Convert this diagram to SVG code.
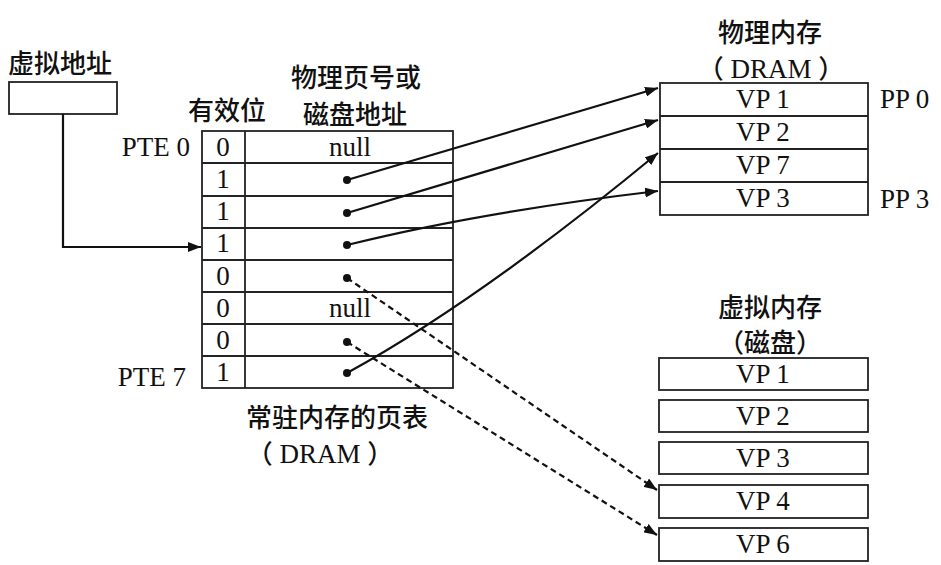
<svg xmlns="http://www.w3.org/2000/svg" width="941" height="565" viewBox="0 0 941 565">
<defs>
<marker id="ah" markerUnits="userSpaceOnUse" markerWidth="14" markerHeight="10" refX="13" refY="5" orient="auto">
<path d="M0,0 L13,5 L0,10 Z" fill="#111"/>
</marker>
<style>
.cjk{font-family:"Noto Sans CJK SC","Noto Sans",sans-serif;font-size:26px;font-weight:500;fill:#111}
.lat{font-family:"Liberation Serif","Times New Roman",serif;font-size:27px;font-weight:normal;fill:#111}
.mid{text-anchor:middle}
.box{fill:#fff;stroke:#222;stroke-width:1.8}
.ln{stroke:#222;stroke-width:1.8}
.con{fill:none;stroke:#111;stroke-width:2.2;marker-end:url(#ah)}
.dash{stroke-dasharray:6 4}
.dot{fill:#111}
</style>
</defs>
<rect width="941" height="565" fill="#fff"/>

<g id="vaddr">
<text class="cjk" x="8" y="73">虚拟地址</text>
<rect class="box" x="9" y="82" width="108" height="32"/>
</g>

<g id="pagetable">
<text class="cjk mid" x="356" y="87">物理页号或</text>
<text class="cjk mid" x="227" y="120">有效位</text>
<text class="cjk mid" x="355" y="124">磁盘地址</text>
<text class="lat" x="190" y="156" text-anchor="end">PTE 0</text>
<text class="lat" x="186" y="386" text-anchor="end">PTE 7</text>
<rect class="box" x="202" y="131" width="251" height="257"/>
<line class="ln" x1="245" y1="131" x2="245" y2="388"/>
<line class="ln" x1="202" y1="163" x2="453" y2="163"/>
<line class="ln" x1="202" y1="196" x2="453" y2="196"/>
<line class="ln" x1="202" y1="228" x2="453" y2="228"/>
<line class="ln" x1="202" y1="260" x2="453" y2="260"/>
<line class="ln" x1="202" y1="292" x2="453" y2="292"/>
<line class="ln" x1="202" y1="324" x2="453" y2="324"/>
<line class="ln" x1="202" y1="356" x2="453" y2="356"/>
<text class="lat mid" x="223" y="156">0</text>
<text class="lat mid" x="223" y="188">1</text>
<text class="lat mid" x="223" y="220">1</text>
<text class="lat mid" x="223" y="252">1</text>
<text class="lat mid" x="223" y="285">0</text>
<text class="lat mid" x="223" y="317">0</text>
<text class="lat mid" x="223" y="349">0</text>
<text class="lat mid" x="223" y="381">1</text>
<text class="lat mid" x="350" y="156">null</text>
<text class="lat mid" x="350" y="317">null</text>
<circle class="dot" cx="347" cy="180" r="4"/>
<circle class="dot" cx="347" cy="213" r="4"/>
<circle class="dot" cx="347" cy="245" r="4"/>
<circle class="dot" cx="347" cy="278" r="4"/>
<circle class="dot" cx="347" cy="342" r="4"/>
<circle class="dot" cx="347" cy="373" r="4"/>
<text class="cjk mid" x="337" y="427">常驻内存的页表</text>
<text class="cjk mid" x="320" y="463">（<tspan class="lat"> DRAM </tspan>）</text>
</g>

<g id="physmem">
<text class="cjk mid" x="770" y="42">物理内存</text>
<text class="cjk mid" x="771" y="78">（<tspan class="lat"> DRAM </tspan>）</text>
<rect class="box" x="660" y="83" width="208" height="132"/>
<line class="ln" x1="660" y1="116" x2="868" y2="116"/>
<line class="ln" x1="660" y1="149" x2="868" y2="149"/>
<line class="ln" x1="660" y1="182" x2="868" y2="182"/>
<text class="lat mid" x="763" y="108">VP 1</text>
<text class="lat mid" x="763" y="141">VP 2</text>
<text class="lat mid" x="763" y="174">VP 7</text>
<text class="lat mid" x="763" y="207">VP 3</text>
<text class="lat" x="880" y="108">PP 0</text>
<text class="lat" x="880" y="208">PP 3</text>
</g>

<g id="diskmem">
<text class="cjk mid" x="770" y="317">虚拟内存</text>
<text class="cjk mid" x="770" y="352">（磁盘）</text>
<rect class="box" x="659" y="358" width="209" height="32"/>
<rect class="box" x="659" y="400" width="209" height="32"/>
<rect class="box" x="659" y="442" width="209" height="32"/>
<rect class="box" x="659" y="485" width="209" height="33"/>
<rect class="box" x="659" y="528" width="209" height="33"/>
<text class="lat mid" x="763" y="383">VP 1</text>
<text class="lat mid" x="763" y="425">VP 2</text>
<text class="lat mid" x="763" y="467">VP 3</text>
<text class="lat mid" x="763" y="510">VP 4</text>
<text class="lat mid" x="763" y="553">VP 6</text>
</g>

<g id="connectors">
<path class="con" d="M63,114 V247 H201"/>
<path class="con" d="M347,180 L658,88"/>
<path class="con" d="M347,213 L658,120"/>
<path class="con" d="M347,245 Q480,212 658,191"/>
<path class="con" d="M347,373 Q480,300 658,153"/>
<path class="con dash" d="M347,278 L657,490"/>
<path class="con dash" d="M347,342 L657,535"/>
</g>
</svg>
